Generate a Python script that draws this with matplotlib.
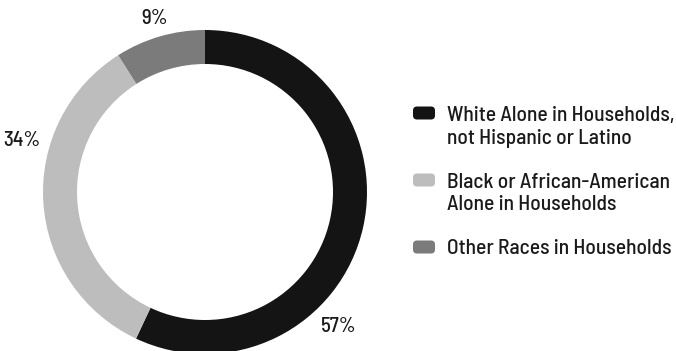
import matplotlib.pyplot as plt
from matplotlib.patches import FancyBboxPatch

# Household race breakdown
groups = ["White Alone in Households,\nnot Hispanic or Latino",
          "Black or African-American\nAlone in Households",
          "Other Races in Households"]
shares = [57, 34, 9]
colors = ["#141414", "#bdbdbd", "#7b7b7b"]

W, H = 676, 351
FONT = ["Barlow Semi Condensed", "Roboto Condensed", "Liberation Sans Narrow", "DejaVu Sans"]
LINE = 23  # px between legend text lines

fig = plt.figure(figsize=(W / 100, H / 100), dpi=100)
ax = fig.add_axes([0, 0, 1, 1])

# ring, clockwise from 12 o'clock
ax.pie(shares, colors=colors, startangle=90, counterclock=False,
       center=(205, H - 192), radius=162,
       wedgeprops=dict(width=34, linewidth=0))
ax.set_xlim(0, W)
ax.set_ylim(0, H)
ax.set_aspect("equal")
ax.axis("off")

# percentage labels around the ring
label_pos = [(339, 326), (22, 140), (155, 18)]
for v, (x, y) in zip(shares, label_pos):
    ax.text(x, H - y, f"{v}%", fontsize=15, family=FONT, weight=500,
            ha="center", va="center", color="#1a1a1a")

# legend on the right
for i, (name, c) in enumerate(zip(groups, colors)):
    y = 113 + 67 * i
    nlines = name.count("\n")
    box = FancyBboxPatch((413, H - y - 6.5), 22, 13,
                         boxstyle="round,pad=0,rounding_size=4",
                         facecolor=c, edgecolor="none")
    ax.add_patch(box)
    ax.text(447, H - (y + 7.5 + LINE * nlines), name, fontsize=15.5,
            family=FONT, weight=500, ha="left", va="baseline",
            linespacing=1.22, color="#1a1a1a")

fig.savefig("out.png", dpi=100)
